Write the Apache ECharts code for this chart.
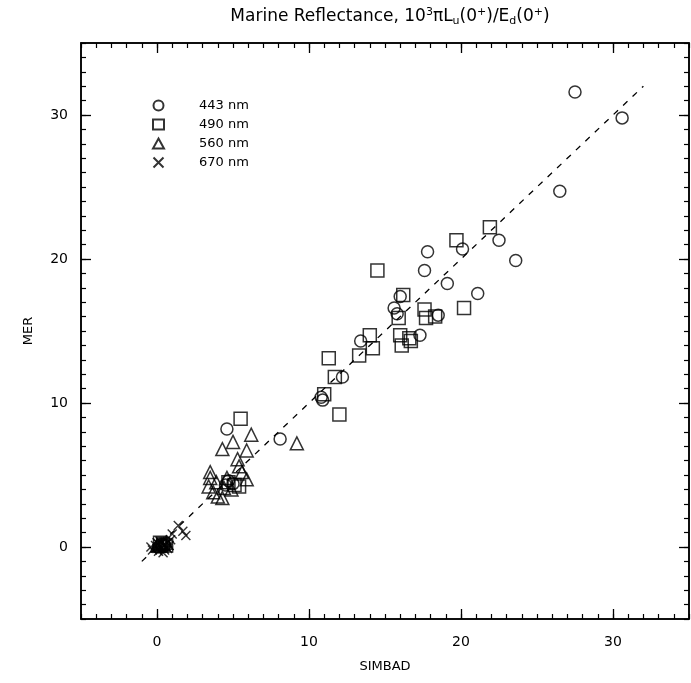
<!DOCTYPE html>
<html>
<head>
<meta charset="utf-8">
<script src="https://cdn.jsdelivr.net/npm/echarts@6/dist/echarts.min.js"></script>
<style>
  html, body { margin: 0; padding: 0; background: #fff; }
  #chart { width: 691px; height: 683px; }
</style>
</head>
<body>
<div id="chart"></div>
<script>
// tick labels
var majorTicks = [0, 10, 20, 30];
var legendNames = ["443 nm", "490 nm", "560 nm", "670 nm"];

// SIMBAD (x) vs MER (y)
var data443 = [
  [27.5, 31.6], [30.6, 29.8], [26.5, 24.7], [22.5, 21.3], [23.6, 19.9], [20.1, 20.7],
  [17.8, 20.5], [17.6, 19.2], [19.1, 18.3], [21.1, 17.6], [18.5, 16.1], [15.6, 16.6],
  [15.8, 16.2], [16.0, 17.4], [17.3, 14.7], [13.4, 14.3], [12.2, 11.8], [10.8, 10.4],
  [10.9, 10.2], [8.1, 7.5], [4.6, 8.2], [4.7, 4.6], [5.0, 4.4], [4.5, 4.3],
  [0.3, 0.2], [0.5, 0.1], [0.1, 0.0]
];
var data490 = [
  [21.9, 22.2], [19.7, 21.3], [14.5, 19.2], [16.2, 17.5], [20.2, 16.6], [15.9, 15.9],
  [17.6, 16.5], [17.7, 15.9], [18.3, 16.0], [16.0, 14.7], [16.6, 14.5], [16.1, 14.0],
  [16.7, 14.3], [14.0, 14.7], [14.2, 13.8], [13.3, 13.3], [11.3, 13.1], [11.7, 11.8],
  [12.0, 9.2], [11.0, 10.6], [5.5, 8.9], [4.7, 4.5], [5.1, 4.3], [5.4, 4.2],
  [0.4, 0.2], [0.6, 0.1], [0.2, 0.3]
];
var data560 = [
  [9.2, 7.2], [6.2, 7.8], [5.0, 7.3], [4.3, 6.8], [5.9, 6.7], [5.3, 6.1], [5.4, 5.6],
  [5.6, 5.2], [5.9, 4.7], [3.5, 5.2], [3.5, 4.8], [3.4, 4.2], [3.7, 3.8], [4.0, 3.5],
  [4.3, 3.4], [4.4, 4.1], [4.6, 4.8], [4.9, 4.0], [3.9, 4.5], [0.3, 0.1], [0.6, 0.3],
  [0.0, 0.1]
];
var data670 = [
  [-0.3, -0.2], [-0.1, 0.1], [0.0, -0.1], [0.1, 0.2], [0.1, -0.3], [0.2, 0.0], [0.3, 0.3],
  [0.3, -0.1], [0.4, 0.1], [0.5, 0.2], [0.5, -0.2], [0.6, 0.0], [0.7, 0.3], [0.7, -0.1],
  [0.8, 0.1], [0.9, 0.5], [1.0, 0.9], [1.4, 1.5], [1.7, 1.1], [1.9, 0.8], [0.2, 0.4],
  [0.0, 0.3], [-0.4, 0.0], [0.4, -0.4]
];
// 1:1 line
var oneToOne = [[-1, -1], [32, 32]];

var font = "DejaVu Sans";
var black = "#000";
var crossPath = "path://M0,0L10,10M10,0L0,10";

function hollow(w) {
  return { color: "rgba(0,0,0,0)", borderColor: black, borderWidth: w };
}

// main axis (labels + long ticks) and a second one for the minor ticks
function axisPair(dim, pos, name) {
  var base = {
    type: "value", min: -5, max: 35, interval: 1, position: pos,
    splitLine: { show: false }
  };
  var major = Object.assign({}, base, {
    axisLine: { show: true, onZero: false, lineStyle: { color: black, width: 1.5 } },
    axisTick: { show: true, inside: true, length: 10, customValues: majorTicks,
                lineStyle: { color: black, width: 1.3 } },
    axisLabel: { show: !!name, customValues: majorTicks, color: black,
                 fontFamily: font, fontSize: 14, margin: dim === "x" ? 16 : 13 }
  });
  if (name) {
    major.name = name;
    major.nameLocation = "middle";
    major.nameGap = dim === "x" ? 41 : 46;
    major.nameTextStyle = { color: black, fontFamily: font, fontSize: 13 };
  }
  var minor = Object.assign({}, base, {
    axisLine: { show: false, onZero: false },
    axisTick: { show: true, inside: true, length: 5, lineStyle: { color: black, width: 1.2 } },
    axisLabel: { show: false }
  });
  return [major, minor];
}

var myChart = echarts.init(document.getElementById("chart"));

var option = {
  backgroundColor: "#fff",
  animation: false,
  title: {
    text: "Marine Reflectance, 10{sup|3}πL{sub|u}(0{sup|+})/E{sub|d}(0{sup|+})",
    left: 385, top: 2, textAlign: "center",
    textStyle: {
      color: black, fontFamily: font, fontSize: 17, fontWeight: "normal",
      rich: {
        sup: { fontSize: 11, fontFamily: font, color: black, padding: [0, 0, 9, 0], verticalAlign: "bottom" },
        sub: { fontSize: 11, fontFamily: font, color: black, padding: [0, 0, 0, 0], verticalAlign: "bottom" }
      }
    }
  },
  grid: { left: 81, right: 2, top: 43, bottom: 64, show: true, borderColor: black, borderWidth: 1.5 },
  legend: {
    orient: "vertical", left: 147, top: 94, itemGap: 6,
    itemWidth: 11, itemHeight: 10,
    data: legendNames,
    textStyle: { color: black, fontFamily: font, fontSize: 13, padding: [0, 0, 0, 30] }
  },
  xAxis: [].concat(axisPair("x", "bottom", "SIMBAD"), axisPair("x", "top", null)),
  yAxis: [].concat(axisPair("y", "left", "MER"), axisPair("y", "right", null)),
  series: [
    { name: legendNames[0], type: "scatter", symbol: "circle", symbolSize: 12,
      itemStyle: hollow(1.5), data: data443 },
    { name: legendNames[1], type: "scatter", symbol: "rect", symbolSize: 13,
      itemStyle: hollow(1.5), data: data490 },
    { name: legendNames[2], type: "scatter", symbol: "triangle", symbolSize: 13,
      itemStyle: hollow(1.5), data: data560 },
    { name: legendNames[3], type: "scatter", symbol: crossPath, symbolSize: 9,
      itemStyle: hollow(1.4), data: data670 },
    { type: "line", data: oneToOne, symbol: "none", silent: true,
      lineStyle: { color: black, width: 1.3, type: [6, 7] } }
  ]
};

myChart.setOption(option);
</script>
</body>
</html>
